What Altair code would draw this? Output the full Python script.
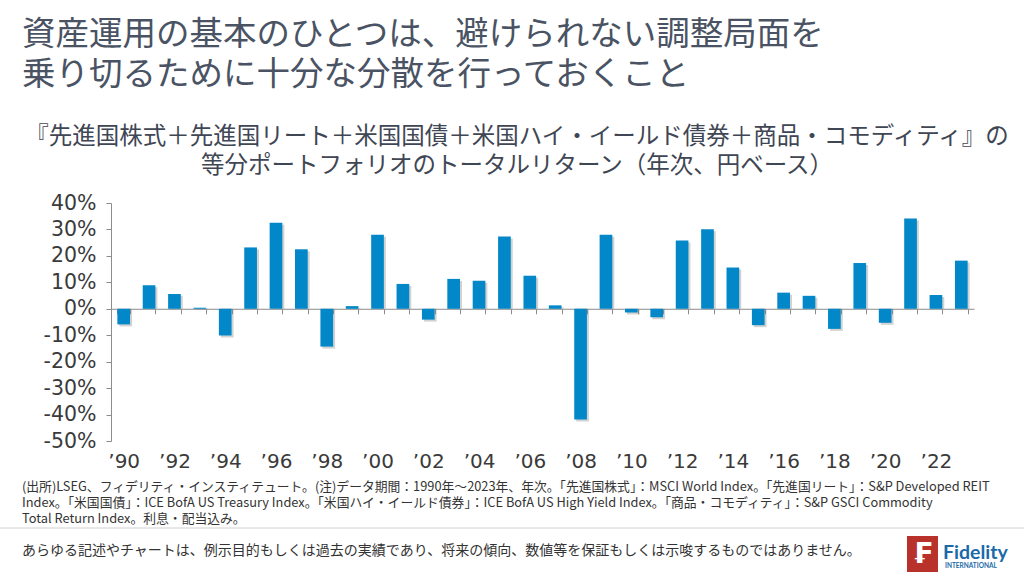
import altair as alt
import pandas as pd

years = list(range(1990, 2024))
returns = [-5.9, 8.9, 5.6, 0.4, -10.1, 23.2, 32.5, 22.5, -14.3, 1.0,
           28.0, 9.4, -4.1, 11.3, 10.6, 27.3, 12.5, 1.3, -41.9, 28.0,
           -1.4, -3.2, 25.8, 30.1, 15.6, -6.2, 6.1, 4.9, -7.6, 17.3,
           -5.3, 34.1, 5.2, 18.2]
y_ticks = [0.4, 0.3, 0.2, 0.1, 0.0, -0.1, -0.2, -0.3, -0.4, -0.5]

title_lines = ["資産運用の基本のひとつは、避けられない調整局面を",
               "乗り切るために十分な分散を行っておくこと"]
subtitle_lines = ["『先進国株式＋先進国リート＋米国国債＋米国ハイ・イールド債券＋商品・コモディティ』の",
                  "等分ポートフォリオのトータルリターン（年次、円ベース）"]
note_lines = ["(出所)LSEG、フィデリティ・インスティテュート。(注)データ期間：1990年～2023年、年次。「先進国株式」：MSCI World Index。「先進国リート」：S&P Developed REIT",
              "Index。「米国国債」：ICE BofA US Treasury Index。「米国ハイ・イールド債券」：ICE BofA US High Yield Index。「商品・コモディティ」：S&P GSCI Commodity",
              "Total Return Index。利息・配当込み。"]
disclaimer = "あらゆる記述やチャートは、例示目的もしくは過去の実績であり、将来の傾向、数値等を保証もしくは示唆するものではありません。"

df = pd.DataFrame({"year": years, "ret": [r / 100 for r in returns]})

L, T = 111, 203
W, H = 863, 238
JP = "Noto Sans CJK JP"
NUM = "DejaVu Sans"

xs = alt.X("year:O", title=None,
           scale=alt.Scale(paddingInner=0.5, paddingOuter=0.25),
           axis=alt.Axis(
               labelExpr="datum.value % 2 == 0 ? '’' + substring(toString(datum.value), 2) : ''",
               labelAngle=0, labelOverlap=False, labelFontSize=20, labelFont=NUM,
               labelColor="#3a3a3a", domainColor="#8c8c8c", tickColor="#8c8c8c",
               tickBand="extent", tickSize=5, offset=-(H * 0.5 / 0.9),
               labelPadding=H * 0.5 / 0.9 + 5, orient="bottom"))
ys = alt.Y("ret:Q", title=None,
           scale=alt.Scale(domain=[-0.5, 0.4], nice=False, zero=False),
           axis=alt.Axis(values=y_ticks, labelExpr="round(datum.value*100) + '%'",
                         labelFontSize=20.5, labelFont=NUM, labelColor="#3a3a3a",
                         domainColor="#8c8c8c", tickColor="#8c8c8c", tickSize=5,
                         labelPadding=10, grid=False))

shadow = alt.Chart(df).mark_bar(color="#7f7f7f", opacity=0.35, xOffset=2, yOffset=2).encode(
    x=xs, y=ys, y2=alt.datum(0))
bars = alt.Chart(df).mark_bar(color="#0288c9").encode(x=xs, y=ys, y2=alt.datum(0))

one = pd.DataFrame({"a": [0]})


def txt(lines, x0, y0, size, color, align="left", weight="normal", font=JP,
        lh=None, baseline="middle"):
    kw = {}
    if lh is not None:
        kw["lineHeight"] = lh
    return alt.Chart(one).mark_text(
        text=lines if len(lines) > 1 else lines[0], align=align, baseline=baseline,
        fontSize=size, color=color, font=font, fontWeight=weight, **kw).encode(
        x=alt.value(x0 - L), y=alt.value(y0 - T))


title = txt(title_lines, 22, 35, 33.5, "#4a5363", lh=40)
subtitle = txt(subtitle_lines, 517, 137, 23.5, "#3f4654", align="center", lh=29)
notes = txt(note_lines, 22, 487, 12.8, "#333333", lh=16)
disc = txt([disclaimer], 22, 551, 14, "#333333")

sep = alt.Chart(one).mark_rule(color="#d0d0d0", strokeWidth=1).encode(
    x=alt.value(0 - L), x2=alt.value(1024 - L), y=alt.value(528 - T))

logo_box = alt.Chart(one).mark_rect(color="#b8312b").encode(
    x=alt.value(907 - L), x2=alt.value(938 - L), y=alt.value(536 - T), y2=alt.value(572 - T))
logo_f = txt(["₣"], 922.5, 555, 28, "#ffffff", align="center", weight="bold", font="DejaVu Sans")
logo_name = txt(["Fidelity"], 943, 559, 19.5, "#1a6aa8", weight="bold", font="Lato",
                baseline="alphabetic")
logo_sub = txt(["INTERNATIONAL"], 945, 563, 6.5, "#1a6aa8", weight="bold", font="Lato",
               baseline="top")

chart = alt.layer(shadow, bars, title, subtitle, notes, disc, sep,
                  logo_box, logo_f, logo_name, logo_sub).properties(
    width=W, height=H,
    autosize=alt.AutoSizeParams(type="none"),
    padding={"left": L, "top": T, "right": 1024 - L - W, "bottom": 576 - T - H},
    background="white",
).configure_view(stroke=None)

chart.save("out.html", embed_options={"renderer": "svg", "actions": False})
